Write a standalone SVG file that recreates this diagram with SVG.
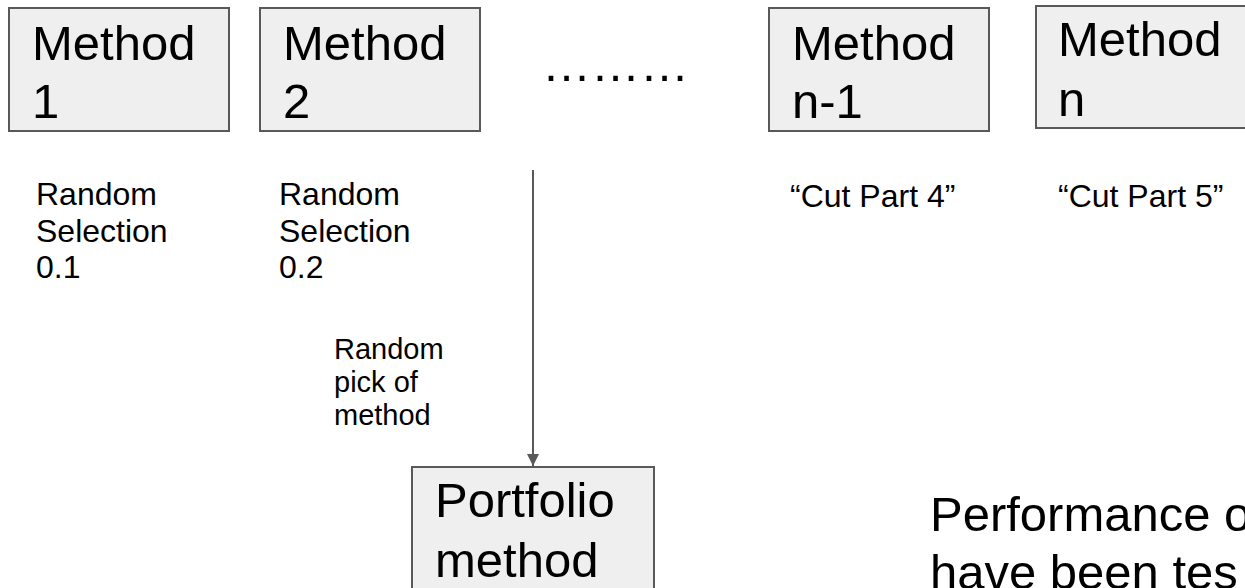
<svg xmlns="http://www.w3.org/2000/svg" width="1245" height="588" viewBox="0 0 1245 588">
  <style>
    .box { fill: #efefef; stroke: #595959; stroke-width: 2; }
    .big { font-family: "Liberation Sans", Arial, sans-serif; font-size: 49px; fill: #000; }
    .mid { font-family: "Liberation Sans", Arial, sans-serif; font-size: 32px; fill: #000; }
    .small { font-family: "Liberation Sans", Arial, sans-serif; font-size: 29px; fill: #000; }
    .edge { stroke: #595959; stroke-width: 2; fill: none; }
  </style>
  <defs>
    <marker id="arrow" viewBox="0 0 10 10" refX="10" refY="5" markerWidth="6" markerHeight="6" markerUnits="strokeWidth" orient="auto">
      <path d="M0,0 L10,5 L0,10 z" fill="#595959"/>
    </marker>
  </defs>

  <g id="method-1">
    <rect class="box" x="9" y="8" width="220" height="123"/>
    <text class="big" x="32" y="60">Method</text>
    <text class="big" x="32" y="118">1</text>
  </g>
  <g id="method-2">
    <rect class="box" x="260" y="8" width="220" height="123"/>
    <text class="big" x="283" y="60">Method</text>
    <text class="big" x="283" y="118">2</text>
  </g>
  <g id="ellipsis">
    <text class="big" x="542" y="81">………</text>
  </g>
  <g id="method-n-1">
    <rect class="box" x="769" y="8" width="220" height="123"/>
    <text class="big" x="792" y="60">Method</text>
    <text class="big" x="792" y="118">n-1</text>
  </g>
  <g id="method-n">
    <rect class="box" x="1036" y="6" width="220" height="122"/>
    <text class="big" x="1058" y="56">Method</text>
    <text class="big" x="1058" y="116">n</text>
  </g>

  <g id="label-1">
    <text class="mid" x="36" y="205">Random</text>
    <text class="mid" x="36" y="241.5">Selection</text>
    <text class="mid" x="36" y="278">0.1</text>
  </g>
  <g id="label-2">
    <text class="mid" x="279" y="205">Random</text>
    <text class="mid" x="279" y="241.5">Selection</text>
    <text class="mid" x="279" y="278">0.2</text>
  </g>
  <g id="label-n-1">
    <text class="mid" x="790" y="207">“Cut Part 4”</text>
  </g>
  <g id="label-n">
    <text class="mid" x="1058" y="207">“Cut Part 5”</text>
  </g>

  <g id="connectors">
    <line class="edge" x1="533" y1="170" x2="533" y2="466" marker-end="url(#arrow)"/>
    <text class="small" x="334" y="359">Random</text>
    <text class="small" x="334" y="392">pick of</text>
    <text class="small" x="334" y="425">method</text>
  </g>

  <g id="portfolio">
    <rect class="box" x="412" y="467" width="242" height="140"/>
    <text class="big" x="435" y="517">Portfolio</text>
    <text class="big" x="435" y="577">method</text>
  </g>

  <g id="note">
    <text class="big" x="930" y="531">Performance o</text>
    <text class="big" x="930" y="589">have been tes</text>
  </g>
</svg>
